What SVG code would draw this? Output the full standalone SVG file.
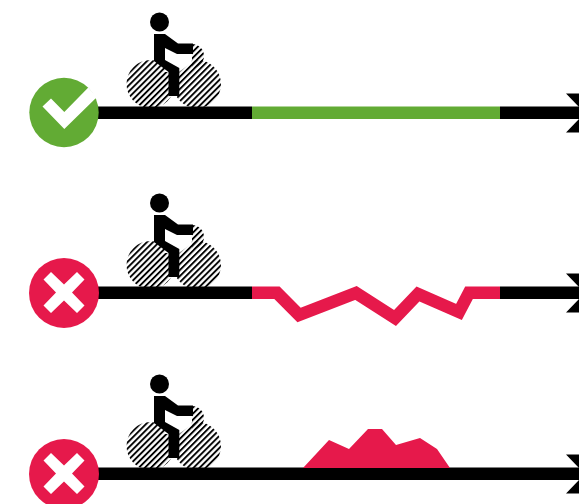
<svg xmlns="http://www.w3.org/2000/svg" width="579" height="504" viewBox="0 0 579 504">
<defs>
<pattern id="hatch" width="4.300" height="4.300" patternUnits="userSpaceOnUse" patternTransform="rotate(-45)">
<rect width="4.300" height="1.900" fill="#000"/>
</pattern>
<g id="rider">
<circle cx="150.500" cy="84" r="24" fill="url(#hatch)"/>
<circle cx="197" cy="84" r="24" fill="url(#hatch)"/>
<path d="M192 44a12 12 0 0 1 0 24z" fill="url(#hatch)"/>
<path d="M165 54L191 54V63L179 72H165z" fill="#fff"/>
<circle cx="159.500" cy="22" r="9.500" fill="#000"/>
<path d="M154 34H165L178 43.500H193V54H177L165 48V60L179.300 68V96H168.500V72L154 61z" fill="#000"/>
</g>
<path id="arrowhead" d="M566 -19.500H579V-6zM566 19.500H579V6z" fill="#000"/>
<path id="cross" d="M51 -20.500L64 -8L77 -20.500L84.500 -13L72 0L84.500 13L77 20.500L64 8L51 20.500L43.500 13L56 0L43.500 -13z" fill="#fff"/>
</defs>
<style>
.road{stroke:#000;stroke-width:12.500;fill:none}
.red{fill:#e6194b}
</style>
<g id="connectors">
<path class="road" d="M95 112.800H252M500 112.800H579M95 292.800H252M500 292.800H579M95 473.800H579"/>
<path d="M252 112.800H500" stroke="#62ab34" stroke-width="12.500" fill="none"/>
<path d="M252 292.800H277L299 315L356 293L395 318L418 294L459 312L469 292.800H500" stroke="#e6194b" stroke-width="12.500" fill="none"/>
<use href="#arrowhead" y="113"/>
<use href="#arrowhead" y="293"/>
<use href="#arrowhead" y="474"/>
</g>
<g id="rider-1"><use href="#rider"/></g>
<g id="rider-2"><use href="#rider" y="181"/></g>
<g id="rider-3"><use href="#rider" y="362"/></g>
<g id="status-ok">
<circle cx="64" cy="112.500" r="34.700" fill="#62ab34"/>
<path d="M42.500 106.500L51 98.500L64.300 112L88.300 87.500L97 97L64.300 129z" fill="#fff"/>
</g>
<g id="status-bad-1">
<circle class="red" cx="64" cy="293" r="35"/>
<use href="#cross" y="292.500"/>
</g>
<g id="status-bad-2">
<circle class="red" cx="64" cy="474" r="35"/>
<use href="#cross" y="473.500"/>
</g>
<g id="hump">
<path class="red" d="M303 468L329 440L349 449L368 429H382L396 445L420 438L437 449L450 468z"/>
</g>
</svg>
